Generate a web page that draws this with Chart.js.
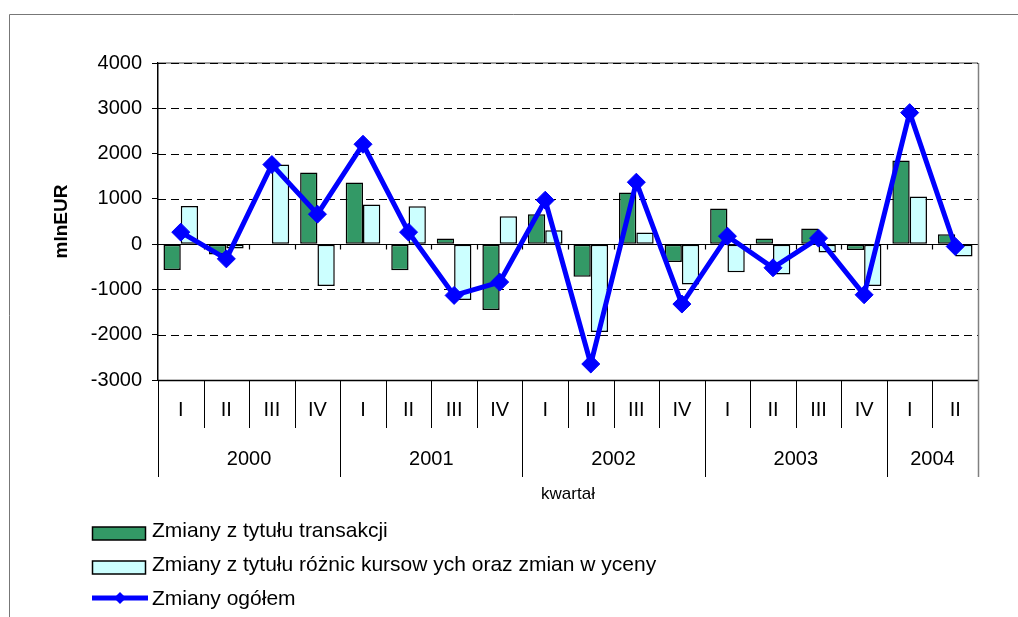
<!DOCTYPE html>
<html>
<head>
<meta charset="utf-8">
<script src="https://cdn.jsdelivr.net/npm/chart.js@4"></script>
<style>
html, body { margin: 0; padding: 0; background: #fff; }
#wrap { position: relative; width: 1018px; height: 617px; }
canvas { display: block; }
</style>
</head>
<body>
<div id="wrap"><canvas id="c" width="1018" height="617"></canvas></div>
<script>
// ---- data ----
const quarters = ['I','II','III','IV','I','II','III','IV','I','II','III','IV','I','II','III','IV','I','II'];
const years = ['2000','2001','2002','2003','2004'];
const quartersPerYear = [4, 4, 4, 4, 2];
const yTickValues = [4000, 3000, 2000, 1000, 0, -1000, -2000, -3000];
const transakcje = [-570, -230, 0, 1580, 1360, -574, 125, -1456, 662, -720, 1140, -397, 787, 125, 346, -132, 1846, 220];
const roznice = [840, -95, 1757, -926, 875, 838, -1235, 618, 309, -1941, 257, -890, -618, -669, -184, -926, 1051, -272];
const ogolem = [265, -325, 1757, 662, 2206, 265, -1132, -838, 970, -2647, 1368, -1323, 176, -522, 132, -1118, 2904, -51];
const seriesNames = ['Zmiany z tytułu transakcji', 'Zmiany z tytułu różnic kursow ych oraz zmian w yceny', 'Zmiany ogółem'];
const yTitle = 'mlnEUR';
const xTitle = 'kwartał';

const FONT = '"Liberation Sans", Arial, sans-serif';
const GREEN = '#339966';
const CYAN = '#CCFFFF';
const BLUE = '#0000FF';

function drawDiamond(ctx, x, y, r) {
  ctx.beginPath();
  ctx.moveTo(x, y - r);
  ctx.lineTo(x + r, y);
  ctx.lineTo(x, y + r);
  ctx.lineTo(x - r, y);
  ctx.closePath();
  ctx.fill();
}

const decor = {
  id: 'decor',
  beforeDraw(chart) {
    const ctx = chart.ctx;
    ctx.save();
    ctx.fillStyle = '#fff';
    ctx.fillRect(0, 0, chart.width, chart.height);
    // outer frame (top + left)
    ctx.strokeStyle = '#777';
    ctx.lineWidth = 1;
    ctx.beginPath();
    ctx.moveTo(9.5, chart.height);
    ctx.lineTo(9.5, 14.5);
    ctx.lineTo(chart.width, 14.5);
    ctx.stroke();
    ctx.restore();
  },
  beforeDatasetsDraw(chart) {
    const ctx = chart.ctx;
    const a = chart.chartArea;
    const y = chart.scales.y;
    ctx.save();
    // plot area border (top, right)
    ctx.strokeStyle = '#808080';
    ctx.lineWidth = 1.5;
    ctx.beginPath();
    ctx.moveTo(a.left, a.top);
    ctx.lineTo(a.right, a.top);
    ctx.stroke();
    // dashed gridlines
    ctx.strokeStyle = '#000';
    ctx.lineWidth = 1;
    ctx.setLineDash([8, 5]);
    yTickValues.forEach(v => {
      if (v === 0 || v === y.min) return;
      const py = Math.round(y.getPixelForValue(v)) + 0.5;
      ctx.beginPath();
      ctx.moveTo(a.left, py);
      ctx.lineTo(a.right, py);
      ctx.stroke();
    });
    ctx.setLineDash([]);
    // bottom line
    const pb = Math.round(y.getPixelForValue(y.min)) + 0.5;
    ctx.lineWidth = 1.5;
    ctx.beginPath();
    ctx.moveTo(a.left, pb);
    ctx.lineTo(a.right, pb);
    ctx.stroke();
    ctx.restore();
  },
  beforeDatasetDraw(chart, args) {
    if (args.index !== 2) return;
    const ctx = chart.ctx;
    const a = chart.chartArea;
    const x = chart.scales.x;
    const y = chart.scales.y;
    const y0 = Math.round(y.getPixelForValue(0)) + 0.5;
    const half = (x.getPixelForValue(1) - x.getPixelForValue(0)) / 2;
    ctx.save();
    ctx.strokeStyle = '#000';
    ctx.lineWidth = 1.2;
    ctx.beginPath();
    ctx.moveTo(a.left, y0);
    ctx.lineTo(a.right, y0);
    for (let i = 1; i < quarters.length; i++) {
      const bx = Math.round(x.getPixelForValue(i) - half) + 0.5;
      ctx.moveTo(bx, y0);
      ctx.lineTo(bx, y0 + 5);
    }
    ctx.stroke();
    ctx.restore();
  },
  afterDraw(chart) {
    const ctx = chart.ctx;
    const a = chart.chartArea;
    const x = chart.scales.x;
    const half = (x.getPixelForValue(1) - x.getPixelForValue(0)) / 2;
    const boundary = i => x.getPixelForValue(i) - half;
    ctx.save();
    // year boundary indices
    const yearStarts = [];
    let acc = 0;
    quartersPerYear.forEach(n => { yearStarts.push(acc); acc += n; });
    const yearBounds = new Set(yearStarts.concat([acc]));
    ctx.lineWidth = 1;
    for (let i = 0; i <= quarters.length; i++) {
      const bx = Math.round(boundary(i)) + 0.5;
      const isYear = yearBounds.has(i);
      ctx.strokeStyle = (i === quarters.length) ? '#808080' : '#000';
      ctx.lineWidth = (i === quarters.length) ? 1.5 : 1;
      ctx.beginPath();
      ctx.moveTo(bx, i === quarters.length ? a.top : a.bottom);
      ctx.lineTo(bx, a.bottom + (isYear ? 97 : 48));
      ctx.stroke();
    }
    // year labels
    ctx.fillStyle = '#000';
    ctx.font = '20px ' + FONT;
    ctx.textAlign = 'center';
    ctx.textBaseline = 'middle';
    years.forEach((yr, k) => {
      const s = yearStarts[k];
      const e = s + quartersPerYear[k];
      const cx = (boundary(s) + boundary(e)) / 2;
      ctx.fillText(yr, cx, a.bottom + 79);
    });
    // legend
    ctx.textAlign = 'left';
    ctx.font = '21px ' + FONT;
    const ly = [531, 565, 599];
    const fills = [GREEN, CYAN];
    for (let k = 0; k < 2; k++) {
      ctx.fillStyle = fills[k];
      ctx.fillRect(92.5, ly[k] - 4, 53, 13);
      ctx.strokeStyle = '#000';
      ctx.lineWidth = 1.5;
      ctx.strokeRect(92.5, ly[k] - 4, 53, 13);
    }
    ctx.strokeStyle = BLUE;
    ctx.fillStyle = BLUE;
    ctx.lineWidth = 5;
    ctx.beginPath();
    ctx.moveTo(92, ly[2] - 1);
    ctx.lineTo(148, ly[2] - 1);
    ctx.stroke();
    drawDiamond(ctx, 120, ly[2] - 1, 6);
    ctx.fillStyle = '#000';
    seriesNames.forEach((name, k) => ctx.fillText(name, 152, ly[k]));
    ctx.restore();
  }
};

new Chart(document.getElementById('c'), {
  type: 'bar',
  data: {
    labels: quarters,
    datasets: [
      {
        type: 'bar', label: seriesNames[0], data: transakcje,
        backgroundColor: GREEN, borderColor: '#000', borderWidth: 1.5, borderSkipped: false,
        categoryPercentage: 0.76, barPercentage: 1, order: 1
      },
      {
        type: 'bar', label: seriesNames[1], data: roznice,
        backgroundColor: CYAN, borderColor: '#000', borderWidth: 1.5, borderSkipped: false,
        categoryPercentage: 0.76, barPercentage: 1, order: 1
      },
      {
        type: 'line', label: seriesNames[2], data: ogolem,
        borderColor: BLUE, backgroundColor: BLUE, borderWidth: 5, tension: 0, fill: false,
        pointStyle: 'rectRot', pointRadius: 9, pointHoverRadius: 9,
        pointBackgroundColor: BLUE, pointBorderColor: BLUE, pointBorderWidth: 1, order: 0
      }
    ]
  },
  options: {
    responsive: false,
    devicePixelRatio: 1,
    animation: false,
    layout: { padding: { left: 0, top: 63, right: 40, bottom: 0 } },
    plugins: { legend: { display: false }, tooltip: { enabled: false } },
    scales: {
      x: {
        type: 'category',
        offset: true,
        grid: { display: false, drawTicks: false },
        border: { display: false },
        ticks: { font: { family: FONT, size: 20 }, color: '#000', padding: 18, maxRotation: 0, autoSkip: false },
        title: { display: true, text: xTitle, color: '#000', font: { family: FONT, size: 17 }, padding: { top: 0, bottom: 112 } },
        afterFit: s => { s.height = 237; }
      },
      y: {
        min: -3000, max: 4000,
        afterBuildTicks: s => { s.ticks = yTickValues.map(v => ({ value: v })); },
        ticks: { font: { family: FONT, size: 20 }, color: '#000', padding: 10, callback: v => String(v) },
        grid: { drawOnChartArea: false, drawTicks: true, tickLength: 6, color: '#000' },
        border: { display: true, color: '#000', width: 1.5 },
        title: { display: true, text: yTitle, color: '#000', font: { family: FONT, size: 19, weight: 'bold' }, padding: { top: 50, bottom: 0 } },
        afterFit: s => { s.width = 158; }
      }
    }
  },
  plugins: [decor]
});
</script>
</body>
</html>
